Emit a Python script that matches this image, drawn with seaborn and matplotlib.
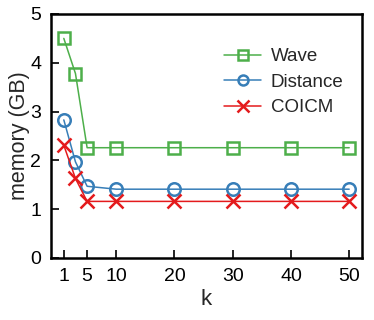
import matplotlib
matplotlib.use("Agg")
import matplotlib.pyplot as plt
import seaborn as sns
import pandas as pd

k = [1, 3, 5, 10, 20, 30, 40, 50]
wave = [4.50, 3.78, 2.26, 2.26, 2.26, 2.26, 2.26, 2.26]
distance = [2.83, 1.97, 1.47, 1.41, 1.41, 1.41, 1.41, 1.41]
coicm = [2.31, 1.63, 1.16, 1.16, 1.16, 1.16, 1.16, 1.16]
xticks = [1, 5, 10, 20, 30, 40, 50]
yticks = [0, 1, 2, 3, 4, 5]

sns.set_theme(style="ticks")
plt.rcParams['font.family'] = ['Liberation Sans', 'DejaVu Sans']

fig = plt.figure(figsize=(3.74, 3.2), dpi=100)
ax = fig.add_axes([51/374, 1 - 258/320, (362-51)/374, (258-14)/320])

series = [("Wave", wave, "#4daf4a", "s"),
          ("Distance", distance, "#377eb8", "o"),
          ("COICM", coicm, "#e41a1c", "x")]
for name, vals, col, mk in series:
    df = pd.DataFrame({"k": k, "v": vals})
    sns.lineplot(data=df, x="k", y="v", ax=ax, color=col, marker=mk,
                 markersize=9 if mk != "x" else 10, markerfacecolor="none",
                 markeredgecolor=col, markeredgewidth=1.8, linewidth=1.1,
                 label=name)

ax.set_xlim(-1.2, 52.2)
ax.set_ylim(0, 5)
ax.set_xticks(xticks)
ax.set_yticks(yticks)
ax.tick_params(direction="in", length=6, width=1.2, labelsize=14, colors="black",
               pad=7)
for s in ax.spines.values():
    s.set_linewidth(1.8)
    s.set_color("black")
ax.set_xlabel("k", fontsize=16, labelpad=3)
ax.set_ylabel("memory (GB)", fontsize=15.5, labelpad=0)
leg = ax.legend(loc="upper right", frameon=False, fontsize=13.5,
                handlelength=2.0, handletextpad=0.5, labelspacing=0.45,
                markerscale=0.8, bbox_to_anchor=(0.995, 0.93))
fig.savefig("out.png", dpi=100)
